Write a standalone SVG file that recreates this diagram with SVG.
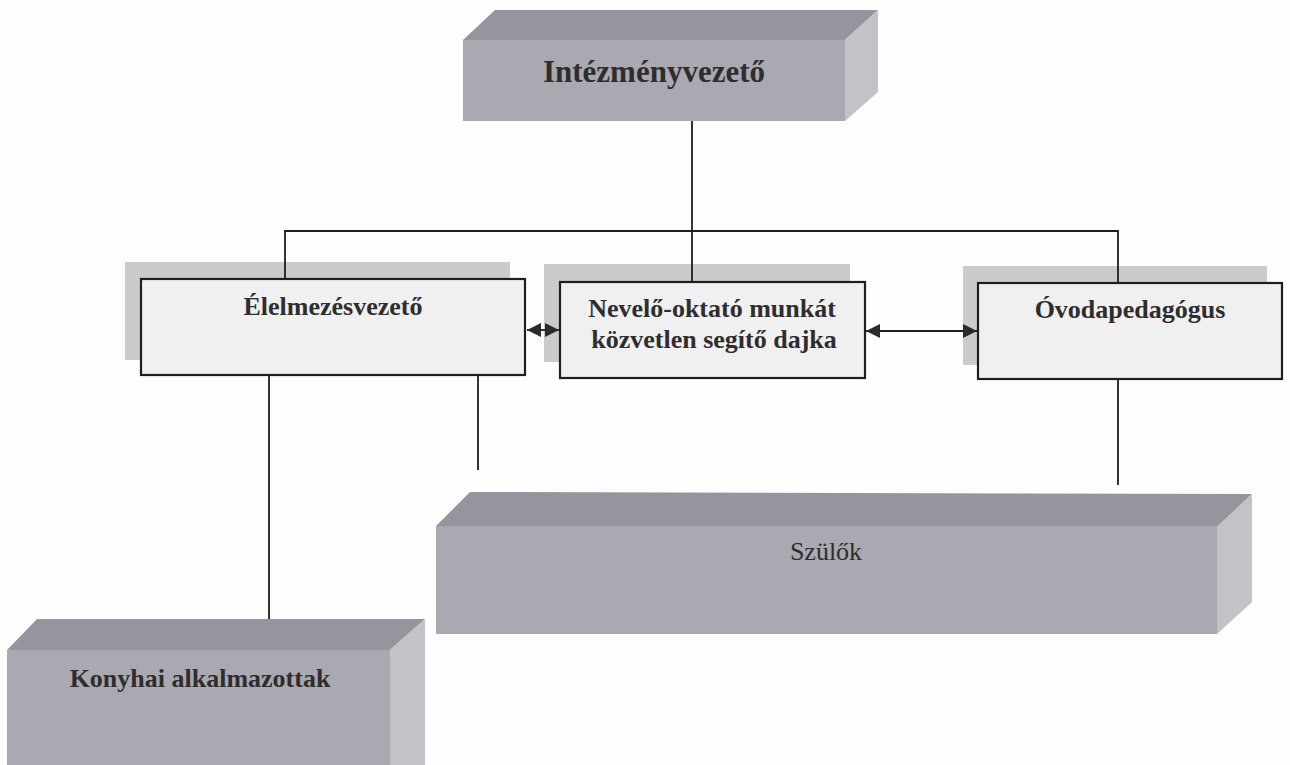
<svg xmlns="http://www.w3.org/2000/svg" width="1290" height="765" viewBox="0 0 1290 765">
<style>
.front{fill:#aaa8b0}
.top{fill:#97949f}
.side{fill:#c3c2c6}
.shadow{fill:#cbcbcb}
.box{fill:#f0f0f0;stroke:#1e1e1e;stroke-width:2.2}
.conn{stroke:#1e1e1e;stroke-width:1.8;fill:none}
.t{font-family:"Liberation Serif","Times New Roman",serif;fill:#2e2e2e;text-anchor:middle}
.b{font-weight:bold;font-size:26px}
</style>
<defs>
<marker id="ah" viewBox="0 0 10 10" refX="10" refY="5" markerWidth="14" markerHeight="14" markerUnits="userSpaceOnUse" orient="auto-start-reverse">
<path d="M0,0 L10,5 L0,10 z" fill="#2a2a2a"/>
</marker>
</defs>
<rect width="1290" height="765" fill="#fdfdfd"/>
<g id="intezmenyvezeto">
<polygon class="top" points="463,40 495,10 878,10 845,40"/>
<polygon class="side" points="845,40 878,10 878,92 845,121"/>
<rect class="front" x="463" y="40" width="382" height="81"/>
<text class="t" x="654" y="82" font-weight="bold" font-size="31">Intézményvezető</text>
</g>
<g id="elelmezesvezeto">
<rect class="shadow" x="125" y="262" width="385" height="98"/>
<rect class="box" x="141" y="279" width="384" height="96"/>
<text class="t b" x="333" y="315">Élelmezésvezető</text>
</g>
<g id="dajka">
<rect class="shadow" x="544" y="264" width="306" height="98"/>
<rect class="box" x="560" y="282" width="305" height="96"/>
<text class="t b" x="712" y="317">Nevelő-oktató munkát</text>
<text class="t b" x="714" y="348">közvetlen segítő dajka</text>
</g>
<g id="ovodapedagogus">
<rect class="shadow" x="963" y="266" width="304" height="99"/>
<rect class="box" x="978" y="283" width="304" height="96"/>
<text class="t b" x="1130" y="318">Óvodapedagógus</text>
</g>
<g id="szulok">
<polygon class="top" points="436,526 470,492 1252,494 1217,527"/>
<polygon class="side" points="1217,527 1252,494 1252,602 1217,634"/>
<rect class="front" x="436" y="526" width="781" height="108"/>
<text class="t" x="826" y="560" font-size="26">Szülők</text>
</g>
<g id="konyhai">
<polygon class="top" points="7,650 37,619 425,619 390,650"/>
<polygon class="side" points="390,650 425,619 425,765 390,765"/>
<rect class="front" x="7" y="650" width="383" height="115"/>
<text class="t b" x="200" y="687">Konyhai alkalmazottak</text>
</g>
<g id="connectors">
<line class="conn" x1="692" y1="121" x2="692" y2="281"/>
<polyline class="conn" points="285,278 285,231 1118,231 1118,282"/>
<line class="conn" x1="269" y1="376" x2="269" y2="619"/>
<line class="conn" x1="478" y1="376" x2="478" y2="470"/>
<line class="conn" x1="1118" y1="380" x2="1118" y2="485"/>
<line class="conn" x1="527" y1="330" x2="559" y2="330" stroke-width="2.5" marker-start="url(#ah)" marker-end="url(#ah)"/>
<line class="conn" x1="866" y1="331" x2="977" y2="331" stroke-width="2.5" marker-start="url(#ah)" marker-end="url(#ah)"/>
</g>
</svg>
